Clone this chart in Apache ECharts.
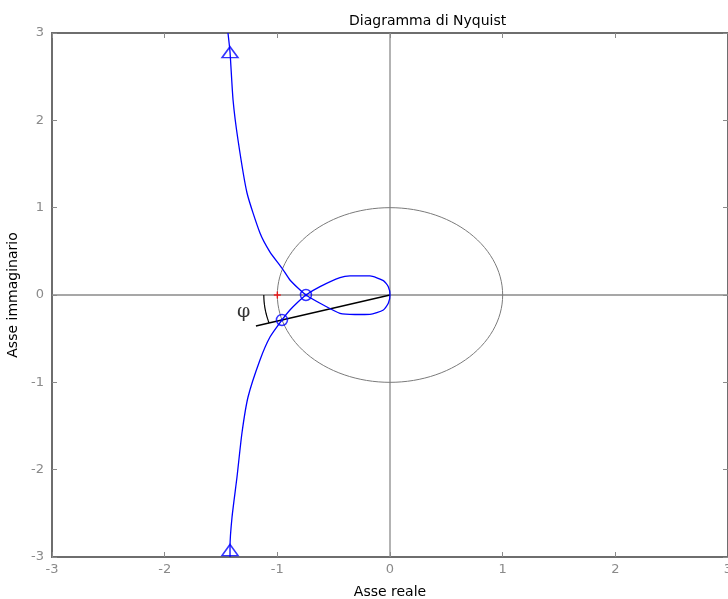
<!DOCTYPE html>
<html>
<head>
<meta charset="utf-8">
<script src="https://cdn.jsdelivr.net/npm/echarts@6/dist/echarts.min.js"></script>
<style>
  html, body { margin: 0; padding: 0; background: #fff; }
  #chart { width: 728px; height: 599px; }
</style>
</head>
<body>
<div id="chart"></div>
<script>
// assi: limiti e tacche
var axisMin = -3, axisMax = 3, axisStep = 1;

// ramo superiore (dall'alto fino all'incrocio sull'asse reale)
var upperBranch = [[-1.438, 3.0], [-1.420, 2.783], [-1.393, 2.233], [-1.349, 1.775], [-1.269, 1.168],
    [-1.154, 0.710], [-1.065, 0.492], [-0.959, 0.309], [-0.888, 0.172], [-0.817, 0.080], [-0.746, 0]];
// lobo inferiore fino all'origine
var lowerLobe = [[-0.592, -0.115], [-0.444, -0.210], [-0.311, -0.223], [-0.178, -0.221],
    [-0.059, -0.172], [-0.015, -0.095], [0, 0]];
// lobo superiore di ritorno all'incrocio
var upperLobe = [[-0.015, 0.095], [-0.059, 0.164], [-0.178, 0.218], [-0.355, 0.218],
    [-0.444, 0.198], [-0.621, 0.095], [-0.746, 0]];
// ramo inferiore verso il basso
var lowerBranch = [[-0.817, -0.080], [-0.888, -0.172], [-0.959, -0.286], [-1.065, -0.481], [-1.154, -0.744],
    [-1.260, -1.168], [-1.314, -1.580], [-1.358, -2.084], [-1.402, -2.542], [-1.420, -2.886], [-1.420, -3.0]];

// marcatori
var arrowPoints = [[-1.42, 2.78], [-1.42, -2.92]];
var crossPoints = [[-0.746, 0], [-0.959, -0.286]];
var criticalPoint = [[-1, 0]];
var phaseLine = [[0, 0], [-1.19, -0.355]];
var phaseLabelPos = [[-1.30, -0.19]];
var arcRadius = 1.12;
var phaseAngle = 16.6; // gradi

var realAxisLine = [[-3, 0], [3, 0]];
var imagAxisLine = [[0, -3], [0, 3]];

(function () {
    var myChart = echarts.init(document.getElementById("chart"));

    // curva completa
    var nyquist = upperBranch.concat(lowerLobe, upperLobe, lowerBranch);

    // cerchio unitario (costruzione geometrica)
    var unitCircle = [];
    for (var i = 0; i <= 120; i++) {
        var t = i / 120 * 2 * Math.PI;
        unitCircle.push([Math.cos(t), Math.sin(t)]);
    }
    // arco dell'angolo φ
    var arc = [];
    for (var j = 0; j <= 12; j++) {
        var a = Math.PI + j / 12 * phaseAngle * Math.PI / 180;
        arc.push([arcRadius * Math.cos(a), arcRadius * Math.sin(a)]);
    }

    var gray = '#8a8a8a';
    var frame = '#6e6e6e';
    var blue = '#0000ff';
    var font = 'DejaVu Sans';

    var option = {
        animation: false,
        title: {
            text: 'Diagramma di Nyquist',
            left: 344,
            top: 9,
            textStyle: { fontFamily: font, fontSize: 14, fontWeight: 'normal', color: '#000' }
        },
        grid: {
            left: 52, right: 0, top: 33, bottom: 42,
            outerBoundsMode: 'none',
            containLabel: false,
            show: true,
            borderColor: frame,
            borderWidth: 2
        },
        xAxis: [{
            type: 'value', min: axisMin, max: axisMax, interval: axisStep,
            name: 'Asse reale', nameLocation: 'middle', nameGap: 28,
            nameTextStyle: { fontFamily: font, fontSize: 14, color: '#000' },
            axisLine: { show: false, onZero: false },
            axisTick: { inside: true, length: 5, lineStyle: { color: gray } },
            axisLabel: { color: gray, fontFamily: font, fontSize: 13, margin: 6, showMinLabel: true, showMaxLabel: true },
            splitLine: { show: false }
        }, {
            type: 'value', min: axisMin, max: axisMax, interval: axisStep, position: 'top',
            axisLine: { show: false, onZero: false },
            axisTick: { inside: true, length: 5, lineStyle: { color: gray } },
            axisLabel: { show: false },
            splitLine: { show: false }
        }],
        yAxis: [{
            type: 'value', min: axisMin, max: axisMax, interval: axisStep,
            name: 'Asse immaginario', nameLocation: 'middle', nameGap: 28,
            nameTextStyle: { fontFamily: font, fontSize: 14, color: '#000' },
            axisLine: { show: false, onZero: false },
            axisTick: { inside: true, length: 5, lineStyle: { color: gray } },
            axisLabel: { color: gray, fontFamily: font, fontSize: 13, margin: 8, showMinLabel: true, showMaxLabel: true },
            splitLine: { show: false }
        }, {
            type: 'value', min: axisMin, max: axisMax, interval: axisStep, position: 'right',
            axisLine: { show: false, onZero: false },
            axisTick: { inside: true, length: 5, lineStyle: { color: gray } },
            axisLabel: { show: false },
            splitLine: { show: false }
        }],
        series: [{
                name: 'asse reale', type: 'line', data: realAxisLine, symbol: 'none',
                lineStyle: { color: gray, width: 1.3 }, silent: true
            },
            {
                name: 'asse immaginario', type: 'line', data: imagAxisLine, symbol: 'none',
                lineStyle: { color: gray, width: 1.3 }, silent: true
            },
            {
                name: 'cerchio unitario', type: 'line', data: unitCircle, symbol: 'none',
                lineStyle: { color: '#7a7a7a', width: 1 }, silent: true
            },
            {
                name: 'fase', type: 'line', data: phaseLine, symbol: 'none',
                lineStyle: { color: '#000', width: 1.3 }, silent: true
            },
            {
                name: 'arco', type: 'line', data: arc, symbol: 'none',
                lineStyle: { color: '#000', width: 1.2 }, silent: true
            },
            {
                name: 'Nyquist', type: 'line', data: nyquist, symbol: 'none', smooth: 0.2,
                lineStyle: { color: blue, width: 1.3 }, silent: true
            },
            {
                name: 'frecce', type: 'scatter', data: arrowPoints, symbol: 'triangle', symbolSize: [16, 11],
                itemStyle: { color: 'rgba(0,0,0,0)', borderColor: blue, borderWidth: 1.5 }, z: 5
            },
            {
                name: 'incroci', type: 'scatter', data: crossPoints, symbol: 'circle', symbolSize: 11,
                itemStyle: { color: 'rgba(0,0,0,0)', borderColor: blue, borderWidth: 1.5 }, z: 5
            },
            {
                name: 'incroci centro', type: 'scatter', data: crossPoints, symbol: 'circle', symbolSize: 3,
                itemStyle: { color: blue }, z: 5
            },
            {
                name: '-1', type: 'scatter', data: criticalPoint,
                symbol: 'path://M4,0H6V4H10V6H6V10H4V6H0V4H4Z', symbolSize: 7,
                itemStyle: { color: '#ff0000' }, z: 6
            },
            {
                name: 'phi', type: 'scatter', data: phaseLabelPos, symbolSize: 0,
                label: {
                    show: true, position: 'inside', formatter: 'φ',
                    fontFamily: 'DejaVu Serif', fontSize: 19, color: '#000'
                }
            }
        ]
    };
    myChart.setOption(option);
})();
</script>
</body>
</html>
